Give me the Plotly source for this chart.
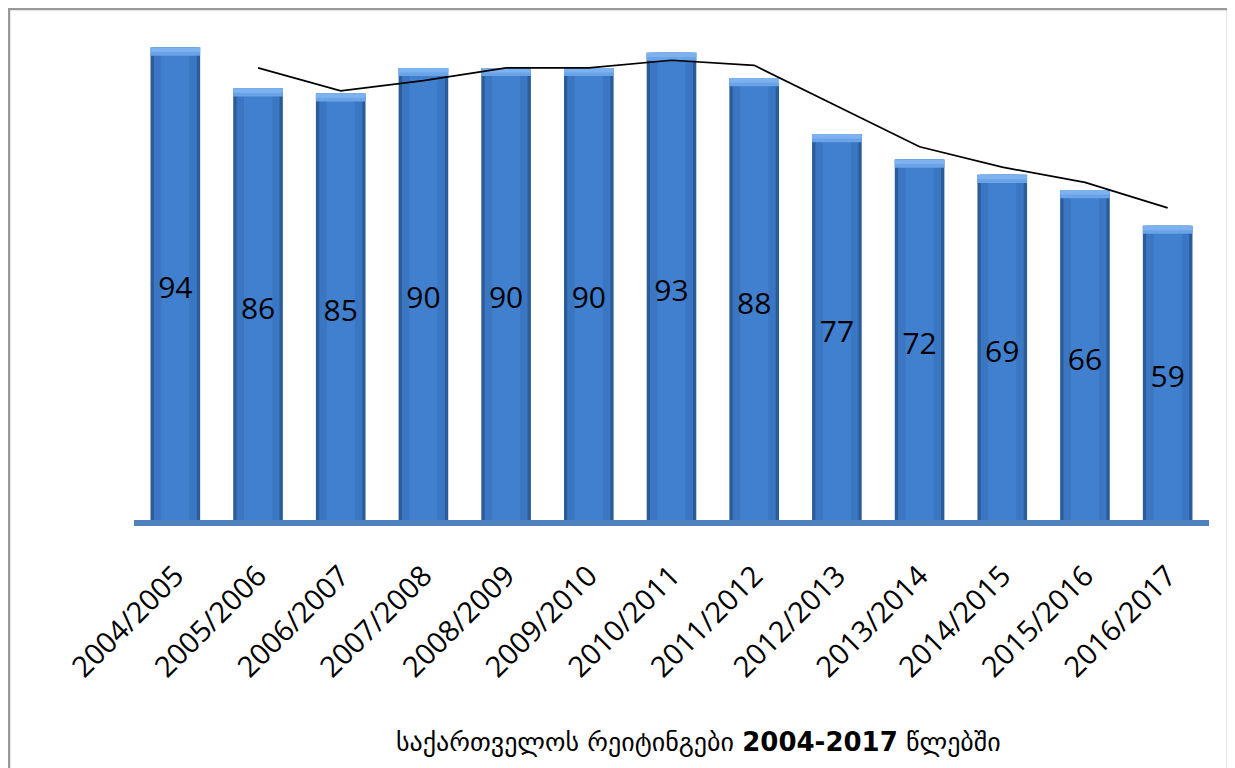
import plotly.graph_objects as go

categories = ["2004/2005", "2005/2006", "2006/2007", "2007/2008", "2008/2009",
              "2009/2010", "2010/2011", "2011/2012", "2012/2013", "2013/2014",
              "2014/2015", "2015/2016", "2016/2017"]
ratings = [94, 86, 85, 90, 90, 90, 93, 88, 77, 72, 69, 66, 59]
# trend line (2-period moving average)
trend_categories = categories[1:]
trend_values = [90, 85.5, 87.5, 90, 90, 91.5, 90.5, 82.5, 74.5, 70.5, 67.5, 62.5]
title_text = "საქართველოს რეიტინგები <b>2004-2017</b> წლებში"

# page body has an 8px margin, so the figure is drawn 8px smaller / shifted
W, H = 1227, 760
ML, MR, MT, MB = 126, 26, 9, 242
PW, PH = W - ML - MR, H - MT - MB

cap_h = 1.6
fig = go.Figure()
fig.add_trace(go.Bar(x=categories, y=ratings, width=0.6, marker=dict(color="#2B5C9A", line=dict(width=0)),
                     hoverinfo="skip", showlegend=False))
fig.add_trace(go.Bar(x=categories, y=ratings, width=0.52, marker=dict(color="#3A76C2", line=dict(width=0)),
                     hoverinfo="skip", showlegend=False))
fig.add_trace(go.Bar(x=categories, y=ratings, width=0.34, marker=dict(color="#4080CF", line=dict(width=0)),
                     text=ratings, textposition="inside", insidetextanchor="middle",
                     textfont=dict(family="Open Sans", size=30, color="black"),
                     constraintext="none", cliponaxis=False,
                     hoverinfo="skip", showlegend=False))
fig.add_trace(go.Bar(x=categories, y=[cap_h] * len(ratings), base=[v - cap_h for v in ratings], width=0.6,
                     marker=dict(color="#6AA3E6", line=dict(width=0)), hoverinfo="skip", showlegend=False))
fig.add_trace(go.Bar(x=categories, y=[cap_h * 0.55] * len(ratings), base=[v - cap_h * 0.55 for v in ratings], width=0.6,
                     marker=dict(color="#7DB2F0", line=dict(width=0)), hoverinfo="skip", showlegend=False))
fig.add_trace(go.Scatter(x=trend_categories, y=trend_values, mode="lines",
                         line=dict(color="black", width=1.7), hoverinfo="skip", showlegend=False))

# floor shadow and floor
fig.add_shape(type="rect", xref="paper", yref="y", x0=0.004, x1=1.004, y0=-1.4, y1=-0.6,
              fillcolor="#D0D0D0", line=dict(width=0), layer="above")
fig.add_shape(type="rect", xref="paper", yref="y", x0=0.0, x1=1.0, y0=-0.9, y1=1.2,
              fillcolor="#4F81BD", line=dict(width=0), layer="above")
# chart border
fig.add_shape(type="rect", xref="paper", yref="paper",
              x0=(1 - ML) / PW, x1=(1220 - ML) / PW, y0=-2, y1=(H - MB - 1) / PH,
              line=dict(color="#999999", width=2.5), fillcolor="rgba(0,0,0,0)")

fig.add_annotation(text=title_text, xref="paper", yref="paper",
                   x=(690 - ML) / PW, y=(H - MB - 734) / PH, showarrow=False,
                   font=dict(family="DejaVu Sans", size=26, color="black"),
                   xanchor="center", yanchor="middle")

fig.update_layout(
    width=W, height=H,
    margin=dict(l=ML, r=MR, t=MT, b=MB),
    paper_bgcolor="white", plot_bgcolor="white",
    barmode="overlay", bargap=0.4,
    xaxis=dict(tickangle=-45, tickfont=dict(family="Open Sans", size=29, color="black"),
               showgrid=False, zeroline=False, showline=False, ticks="",
               ticklabelstandoff=26),
    yaxis=dict(range=[0, 100], visible=False, showgrid=False, zeroline=False),
)

fig.write_html("out.html")
